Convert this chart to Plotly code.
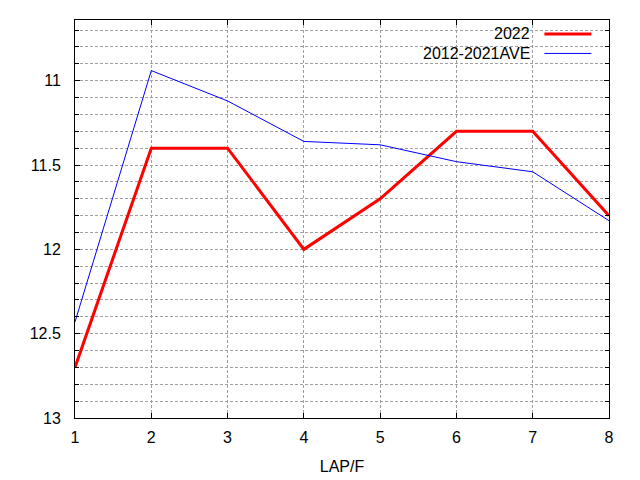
import plotly.graph_objects as go

laps = [1, 2, 3, 4, 5, 6, 7, 8]
y2022 = [12.7, 11.4, 11.4, 12.0, 11.7, 11.3, 11.3, 11.8]
yave = [12.43, 10.94, 11.12, 11.36, 11.38, 11.48, 11.54, 11.83]
names = ["2022", "2012-2021AVE"]
colors = ["#ff0000", "#0000ff"]
widths = [3, 1]

FONT = "Liberation Sans, Arial, sans-serif"
GRID = "#a0a0a0"
FS = 16

fig = go.Figure()
for ys, nm, c, w in zip([y2022, yave], names, colors, widths):
    fig.add_trace(go.Scatter(x=laps, y=ys, mode="lines", name=nm,
                             line=dict(color=c, width=w), showlegend=False))

# gnuplot-style legend: text right-aligned, then line sample
for i, (nm, c, w) in enumerate(zip(names, colors, widths)):
    yp = 0.965 - i * 0.049
    fig.add_annotation(x=0.856, y=yp, xref="paper", yref="paper", text=nm,
                       showarrow=False, xanchor="right", yanchor="middle",
                       font=dict(family=FONT, size=FS, color="#000000"))
    fig.add_shape(type="line", xref="paper", yref="paper",
                  x0=0.879, x1=0.967, y0=yp, y1=yp,
                  line=dict(color=c, width=w))

fig.update_layout(
    width=640, height=480,
    margin=dict(l=67, r=39, t=12, b=70),
    paper_bgcolor="white", plot_bgcolor="white",
    font=dict(family=FONT, size=FS, color="#000000"),
    xaxis=dict(range=[1, 8], dtick=1, tick0=1, showgrid=True, gridcolor=GRID,
               griddash="3px,2px", gridwidth=1, zeroline=False,
               showline=True, linecolor="black", linewidth=1, mirror="ticks",
               ticks="inside", ticklen=5, tickcolor="black", ticklabelstandoff=5,
               title=dict(text="LAP/F", standoff=15, font=dict(size=FS))),
    yaxis=dict(range=[13, 10.64], dtick=0.5, tick0=11, showgrid=True,
               gridcolor=GRID, griddash="3px,2px", gridwidth=1, zeroline=False,
               showline=True, linecolor="black", linewidth=1, mirror="ticks",
               ticks="inside", ticklen=5, tickcolor="black", ticklabelstandoff=10,
               minor=dict(dtick=0.1, tick0=11, showgrid=True, gridcolor=GRID,
                          griddash="3px,2px", gridwidth=1, ticks="inside",
                          ticklen=4, tickcolor="black")),
)

fig.write_html("out.html")
